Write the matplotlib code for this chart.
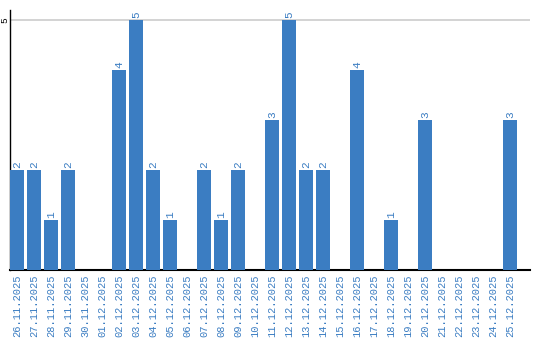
import matplotlib
matplotlib.use("Agg")
import matplotlib.pyplot as plt

dates = ["26.11.2025", "27.11.2025", "28.11.2025", "29.11.2025", "30.11.2025",
         "01.12.2025", "02.12.2025", "03.12.2025", "04.12.2025", "05.12.2025",
         "06.12.2025", "07.12.2025", "08.12.2025", "09.12.2025", "10.12.2025",
         "11.12.2025", "12.12.2025", "13.12.2025", "14.12.2025", "15.12.2025",
         "16.12.2025", "17.12.2025", "18.12.2025", "19.12.2025", "20.12.2025",
         "21.12.2025", "22.12.2025", "23.12.2025", "24.12.2025", "25.12.2025"]
values = [2, 2, 1, 2, 0, 0, 4, 5, 2, 1, 0, 2, 1, 2, 0,
          3, 5, 2, 2, 0, 4, 0, 1, 0, 3, 0, 0, 0, 0, 3]
yticks = [5]

color = "#3b7dc2"
W, H = 540, 340
fig = plt.figure(figsize=(W / 100, H / 100), dpi=100)
ax = fig.add_axes([10 / W, (H - 270) / H, 520 / W, 260 / H])

bw = 14 / 17
x = list(range(len(dates)))
ax.bar(x, values, width=bw, align="edge", color=color, zorder=3)
ax.set_xlim(0, 520 / 17)
ax.set_ylim(0, 5.2)

for xi, v in zip(x, values):
    if v > 0:
        ax.text(xi + bw / 2, v + 0.04, str(v), rotation=90, ha="center", va="bottom",
                color=color, fontsize=8, family="Liberation Mono")

ax.set_xticks([xi + bw / 2 for xi in x])
ax.set_xticklabels(dates, rotation=90, color=color, fontsize=7.5, family="Liberation Mono")
ax.set_yticks(yticks)
ax.set_yticklabels([str(t) for t in yticks], rotation=90, va="center", ha="center",
                   fontsize=6.8, family="Liberation Mono")
ax.tick_params(axis="both", length=0)
ax.tick_params(axis="x", pad=3)
ax.tick_params(axis="y", pad=4)
ax.grid(axis="y", color="#cccccc", linewidth=1.2, zorder=0)

for s in ["top", "right"]:
    ax.spines[s].set_visible(False)
ax.spines["left"].set_linewidth(1)
ax.spines["bottom"].set_linewidth(1.5)
ax.spines["left"].set_color("black")
ax.spines["bottom"].set_color("black")

fig.savefig("out.png", dpi=100)
